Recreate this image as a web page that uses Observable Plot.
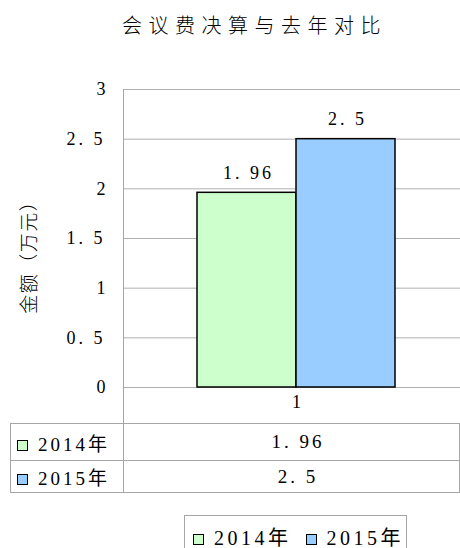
<!DOCTYPE html>
<html><head><meta charset="utf-8">
<script src="https://cdn.jsdelivr.net/npm/d3@7"></script>
<script src="https://cdn.jsdelivr.net/npm/@observablehq/plot@0.6"></script>
<style>
body{margin:0;background:#fff;width:460px;height:548px;position:relative;overflow:hidden;font-family:"Liberation Serif","Noto Sans CJK SC",serif;color:#000;}
#title{position:absolute;top:11px;left:122px;white-space:nowrap;font-family:"Noto Sans CJK SC",sans-serif;font-weight:300;font-size:20px;letter-spacing:6.5px;line-height:28px;color:#000;}
#ylabel{position:absolute;left:28px;top:253px;transform:translate(-50%,-50%) rotate(-90deg);white-space:nowrap;font-family:"Noto Sans CJK SC",sans-serif;font-weight:300;font-size:19px;letter-spacing:1.5px;text-indent:1.5px;line-height:22px;color:#000;}
#chart{position:absolute;top:55px;left:0;}
#chart svg text.ls{letter-spacing:3px;}
#stub{position:absolute;left:123px;top:387px;height:37px;border-left:1px solid #a6a6a6;}
#tbl{position:absolute;left:10px;top:423px;border-collapse:collapse;font-size:19px;}
#tbl td{border:1px solid #a6a6a6;padding:0;white-space:nowrap;}
#tbl td.k{width:113px;padding-left:6px;box-sizing:border-box;letter-spacing:3px;}
#tbl td.k .sw{margin-right:10px;}
#tbl td.v{width:340px;text-align:center;padding-left:13px;box-sizing:border-box;letter-spacing:3px;}
.sw{display:inline-block;width:9px;height:9px;border:1.5px solid #000;vertical-align:0px;letter-spacing:0;}
#legend{position:absolute;left:184px;top:515px;width:223px;height:60px;border:1px solid #a6a6a6;box-sizing:border-box;font-size:20px;padding:6px 0 0 8px;letter-spacing:3.5px;white-space:nowrap;}
#legend span.it{margin-right:14px;}
#legend .sw{margin-right:10px;}
</style></head><body>
<div id="title"></div>
<div id="ylabel"></div>
<div id="chart"></div>
<div id="stub"></div>
<table id="tbl"></table>
<div id="legend"></div>
<script>
const title = "会议费决算与去年对比";
const yLabel = "金额（万元）";
const categories = ["1"];
const series = ["2014年", "2015年"];
const values2014 = [1.96];
const values2015 = [2.5];
const seriesValues = [values2014, values2015];
const colors = ["#CCFFCC", "#99CCFF"];
const yTicks = [0, 0.5, 1, 1.5, 2, 2.5, 3];

const fmt = v => String(v).replace(".", ". ");

document.getElementById("title").textContent = title;
document.getElementById("ylabel").textContent = yLabel;

const data = [];
categories.forEach((c, j) => series.forEach((s, i) => data.push({category: c, series: s, value: seriesValues[i][j]})));

const chart = Plot.plot({
  width: 460, height: 368,
  marginTop: 34, marginBottom: 36, marginLeft: 123, marginRight: 0,
  style: {fontFamily: '"Liberation Serif","Noto Sans CJK SC",serif', fontSize: "18px", background: "transparent", color: "#000"},
  x: {domain: series, range: [197, 395], padding: 0, axis: null},
  y: {domain: [0, 3]},
  color: {domain: series, range: colors},
  marks: [
    Plot.gridY(yTicks, {stroke: "#b0b0b0", strokeOpacity: 1}),
    Plot.frame({anchor: "left", stroke: "#a6a6a6"}),
    Plot.axisY(yTicks, {tickSize: 0, tickPadding: 18, tickFormat: fmt, fontSize: 18, label: null}),
    Plot.barY(data, {x: "series", y: "value", fill: "series", stroke: "#000", strokeWidth: 1.5}),
    Plot.text(data, {x: "series", y: "value", text: d => fmt(d.value), lineAnchor: "bottom", dy: -14, dx: 1.5, fontSize: 18}),
    Plot.text(categories, {frameAnchor: "bottom", text: d => d, dy: 20, dx: 4.5, fontSize: 18})
  ]
});
chart.querySelectorAll("text").forEach(t => { if (/\d\. \d/.test(t.textContent)) t.classList.add("ls"); });
document.getElementById("chart").appendChild(chart);

const tbl = document.getElementById("tbl");
series.forEach((s, i) => {
  const tr = document.createElement("tr");
  tr.style.height = i === 0 ? "37px" : "32px";
  const k = document.createElement("td"); k.className = "k";
  const sw = document.createElement("span"); sw.className = "sw"; sw.style.background = colors[i];
  k.appendChild(sw); k.appendChild(document.createTextNode(s));
  tr.appendChild(k);
  categories.forEach((c, j) => {
    const v = document.createElement("td"); v.className = "v";
    v.textContent = fmt(seriesValues[i][j]);
    tr.appendChild(v);
  });
  tbl.appendChild(tr);
});

const lg = document.getElementById("legend");
series.forEach((s, i) => {
  const it = document.createElement("span"); it.className = "it";
  const sw = document.createElement("span"); sw.className = "sw"; sw.style.background = colors[i];
  it.appendChild(sw); it.appendChild(document.createTextNode(s));
  lg.appendChild(it);
});
</script>
</body></html>
